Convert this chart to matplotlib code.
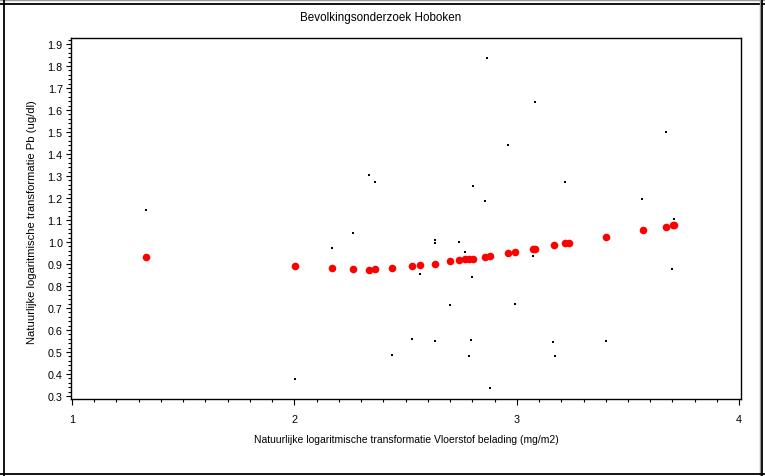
import matplotlib
matplotlib.use("Agg")
import matplotlib.pyplot as plt
from matplotlib import font_manager
from matplotlib.lines import Line2D
from matplotlib.ticker import MultipleLocator, FixedLocator

# ---- data ----
title = "Bevolkingsonderzoek Hoboken"
xlabel = "Natuurlijke logaritmische transformatie Vloerstof belading (mg/m2)"
ylabel = "Natuurlijke logaritmische transformatie Pb (ug/dl)"

obs_x = [1.334, 2.004, 2.168, 2.265, 2.335, 2.364, 2.438, 2.529, 2.567,
         2.634, 2.634, 2.634, 2.699, 2.741, 2.768, 2.787, 2.792, 2.799,
         2.801, 2.858, 2.864, 2.880, 2.960, 2.993, 3.071, 3.083, 3.164,
         3.170, 3.215, 3.401, 3.564, 3.672, 3.700, 3.708]
obs_y = [1.146, 0.377, 0.971, 1.039, 1.302, 1.274, 0.487, 0.560, 0.852,
         1.011, 0.993, 0.548, 0.712, 1.000, 0.953, 0.481, 0.554, 0.839,
         1.255, 1.186, 1.835, 0.335, 1.439, 0.717, 0.936, 1.634, 0.543,
         0.481, 1.274, 0.548, 1.193, 1.498, 0.877, 1.102]

fit_x = [1.334, 2.003, 2.168, 2.265, 2.335, 2.364, 2.438, 2.529, 2.567,
         2.634, 2.699, 2.742, 2.769, 2.787, 2.801, 2.859, 2.879, 2.960,
         2.993, 3.072, 3.081, 3.167, 3.216, 3.237, 3.402, 3.566, 3.673,
         3.704, 3.709]
fit_y = [0.932, 0.892, 0.882, 0.877, 0.873, 0.875, 0.882, 0.891, 0.894,
         0.901, 0.912, 0.916, 0.921, 0.924, 0.924, 0.933, 0.936, 0.950,
         0.956, 0.968, 0.969, 0.984, 0.993, 0.997, 1.024, 1.052, 1.070,
         1.075, 1.075]

x_ticks = [1, 2, 3, 4]
y_ticks = [0.3, 0.4, 0.5, 0.6, 0.7, 0.8, 0.9, 1.0, 1.1, 1.2, 1.3, 1.4,
           1.5, 1.6, 1.7, 1.8, 1.9]

# ---- fonts ----
names = {f.name for f in font_manager.fontManager.ttflist}
if "Liberation Sans Narrow" in names:
    fam = ["Liberation Sans Narrow", "DejaVu Sans"]
    k = 1.0
else:
    fam = ["Liberation Sans", "DejaVu Sans"]
    k = 0.82
plt.rcParams["font.family"] = fam

W, H = 765, 477
fig = plt.figure(figsize=(W / 100, H / 100), dpi=100)
ax = fig.add_axes([71 / W, 1 - 400 / H, (741 - 71) / W, (400 - 39) / H])

ax.scatter(obs_x, obs_y, s=2.5, marker="s", color="black", linewidths=0, zorder=3)
ax.scatter(fit_x, fit_y, s=30, marker="o", color="#ff0000", linewidths=0, zorder=4)

ax.set_xlim(0.996, 4.008)
ax.set_ylim(0.286, 1.927)
ax.xaxis.set_major_locator(FixedLocator(x_ticks))
ax.yaxis.set_major_locator(FixedLocator(y_ticks))
ax.xaxis.set_minor_locator(MultipleLocator(0.1))
ax.yaxis.set_minor_locator(MultipleLocator(0.02))
ax.set_xticklabels([str(v) for v in x_ticks])
ax.set_yticklabels([f"{v:.1f}" for v in y_ticks])

ax.tick_params(axis="both", which="both", direction="out", width=0.8, colors="black")
ax.tick_params(axis="x", which="major", length=4, pad=7, labelsize=9.5 * k)
ax.tick_params(axis="x", which="minor", length=2.5)
ax.tick_params(axis="y", which="major", length=3.5, pad=2.5, labelsize=9.5 * k)
ax.tick_params(axis="y", which="minor", length=2)
for sp in ax.spines.values():
    sp.set_linewidth(1.0)
    sp.set_color("black")

fig.text(381 / W, 1 - 18 / H, title, ha="center", va="center", fontsize=10.2 * k)
fig.text(406 / W, 1 - 440 / H, xlabel, ha="center", va="center", fontsize=9.1 * k)
fig.text(32 / W, 1 - 222 / H, ylabel, ha="center", va="center", rotation=90,
         fontsize=9.9 * k)

# outer frame lines
def px(x, y):
    return x / W, 1 - y / H

for (x0, y0), (x1, y1), c, lw in [
    ((0, 0.5), (W, 0.5), "#999999", 1.0),
    ((0, 5), (W, 5), "black", 1.3),
    ((3.7, 0), (3.7, H), "black", 1.3),
    ((760, 0), (760, H), "#999999", 1.0),
    ((762, 0), (762, H), "black", 1.3),
    ((0, 475), (W, 475), "black", 1.3),
]:
    a, b = px(x0, y0)
    c2, d = px(x1, y1)
    fig.add_artist(Line2D([a, c2], [b, d], color=c, linewidth=lw))

fig.savefig("out.png", dpi=100)
